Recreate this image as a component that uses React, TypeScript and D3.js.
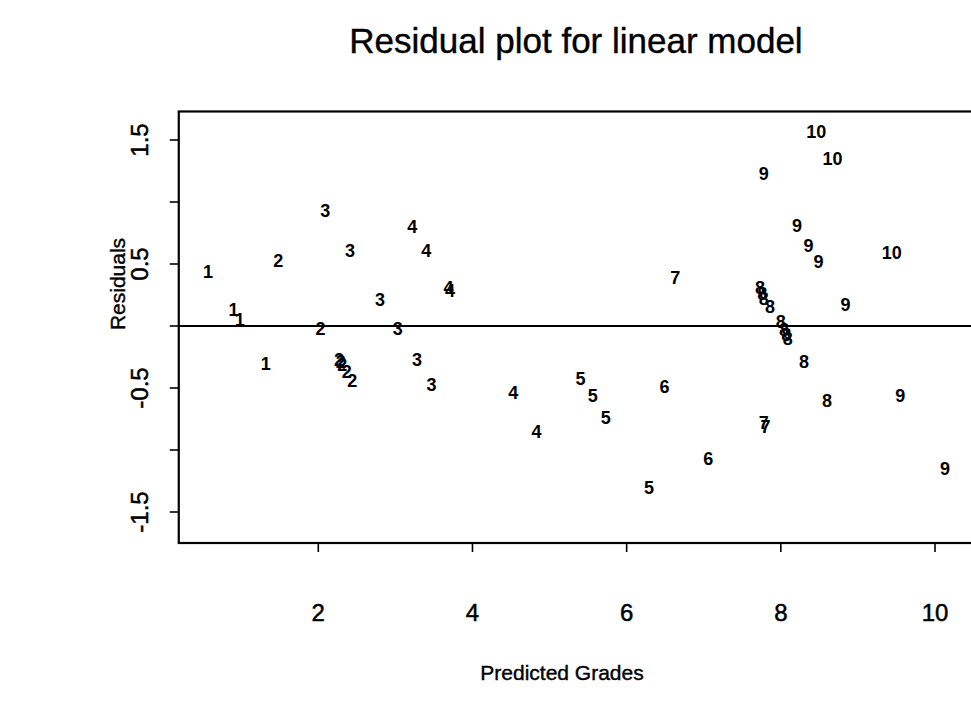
import React from "react";
import * as d3 from "d3";

const grades: string[] = [
  "1", "1", "1", "1",
  "2", "2", "2", "2", "2", "2", "2",
  "3", "3", "3", "3", "3", "3",
  "4", "4", "4", "4", "4", "4",
  "5", "5", "5", "5",
  "6", "6",
  "7", "7", "7",
  "8", "8", "8", "8", "8", "8", "8", "8", "8", "8",
  "9", "9", "9", "9", "9", "9", "9",
  "10", "10", "10",
];

const predicted: number[] = [
  0.57, 0.90, 0.98, 1.32,
  1.48, 2.03, 2.27, 2.29, 2.31, 2.37, 2.44,
  2.09, 2.41, 2.80, 3.03, 3.28, 3.47,
  3.22, 3.40, 3.69, 3.71, 4.53, 4.83,
  5.40, 5.56, 5.73, 6.29,
  6.49, 7.06,
  6.63, 7.78, 7.80,
  7.73, 7.76, 7.78, 7.86, 8.00, 8.04, 8.07, 8.09, 8.30, 8.60,
  7.78, 8.21, 8.36, 8.49, 8.84, 9.55, 10.13,
  8.46, 8.67, 9.44,
];

const residuals: number[] = [
  0.44, 0.13, 0.05, -0.30,
  0.53, -0.02, -0.27, -0.29, -0.31, -0.37, -0.44,
  0.93, 0.61, 0.21, -0.02, -0.27, -0.47,
  0.80, 0.61, 0.31, 0.29, -0.54, -0.85,
  -0.42, -0.56, -0.74, -1.30,
  -0.49, -1.07,
  0.39, -0.78, -0.81,
  0.31, 0.26, 0.22, 0.16, 0.04, -0.03, -0.07, -0.10, -0.29, -0.60,
  1.23, 0.81, 0.65, 0.52, 0.17, -0.56, -1.15,
  1.57, 1.35, 0.59,
];

const xTicks: number[] = [2, 4, 6, 8, 10];
const yTicks: number[] = [-1.5, -1, -0.5, 0, 0.5, 1, 1.5];
const yTickLabels: number[] = [-1.5, -0.5, 0.5, 1.5];

const title = "Residual plot for linear model";
const xTitle = "Predicted Grades";
const yTitle = "Residuals";

const W = 971;
const H = 714;
const font = "'Liberation Sans', Arial, Helvetica, sans-serif";

export default function App() {
  const x = d3.scaleLinear().domain([2, 10]).range([318.3, 935]);
  const y = d3.scaleLinear().domain([-1.5, 1.5]).range([512, 140]);
  const left = x(0.19);
  const right = x(10.7);
  const top = y(1.73);
  const bottom = y(-1.75);

  return (
    <svg
      width={W}
      height={H}
      style={{ position: "absolute", left: 0, top: 0, background: "#fff" }}
      fontFamily={font}
    >
      <rect x={0} y={0} width={W} height={H} fill="#fff" />
      <text x={576} y={53} fontSize={35} textAnchor="middle" fill="#000" stroke="#000" strokeWidth={0.4}>
        {title}
      </text>
      {/* box */}
      <rect
        x={left}
        y={top}
        width={right - left}
        height={bottom - top}
        fill="none"
        stroke="#000"
        strokeWidth={2.2}
      />
      {/* zero line */}
      <line x1={left} x2={right} y1={y(0)} y2={y(0)} stroke="#000" strokeWidth={2.2} />
      {/* x ticks */}
      {xTicks.map((t) => (
        <g key={"xt" + t}>
          <line x1={x(t)} x2={x(t)} y1={bottom} y2={bottom + 9} stroke="#000" strokeWidth={1.6} />
          <text x={x(t)} y={621} fontSize={24} textAnchor="middle" fill="#000" stroke="#000" strokeWidth={0.5}>
            {t}
          </text>
        </g>
      ))}
      {/* y ticks */}
      {yTicks.map((t) => (
        <line key={"yt" + t} x1={left - 9} x2={left} y1={y(t)} y2={y(t)} stroke="#000" strokeWidth={1.6} />
      ))}
      {yTickLabels.map((t) => (
        <text
          key={"yl" + t}
          transform={`translate(${148},${y(t)}) rotate(-90)`}
          fontSize={24}
          textAnchor="middle"
          fill="#000"
          stroke="#000"
          strokeWidth={0.5}
        >
          {String(t)}
        </text>
      ))}
      <text
        transform={`translate(${125},${284}) rotate(-90)`}
        fontSize={21}
        textAnchor="middle"
        fill="#000"
        stroke="#000"
        strokeWidth={0.4}
      >
        {yTitle}
      </text>
      <text x={562} y={680} fontSize={21} textAnchor="middle" fill="#000" stroke="#000" strokeWidth={0.4}>
        {xTitle}
      </text>
      {/* points as labels */}
      {grades.map((g, i) => (
        <text
          key={"p" + i}
          x={x(predicted[i])}
          y={y(residuals[i])}
          dy="0.36em"
          fontSize={18}
          fontWeight="bold"
          textAnchor="middle"
          fill="#000"
        >
          {g}
        </text>
      ))}
    </svg>
  );
}
